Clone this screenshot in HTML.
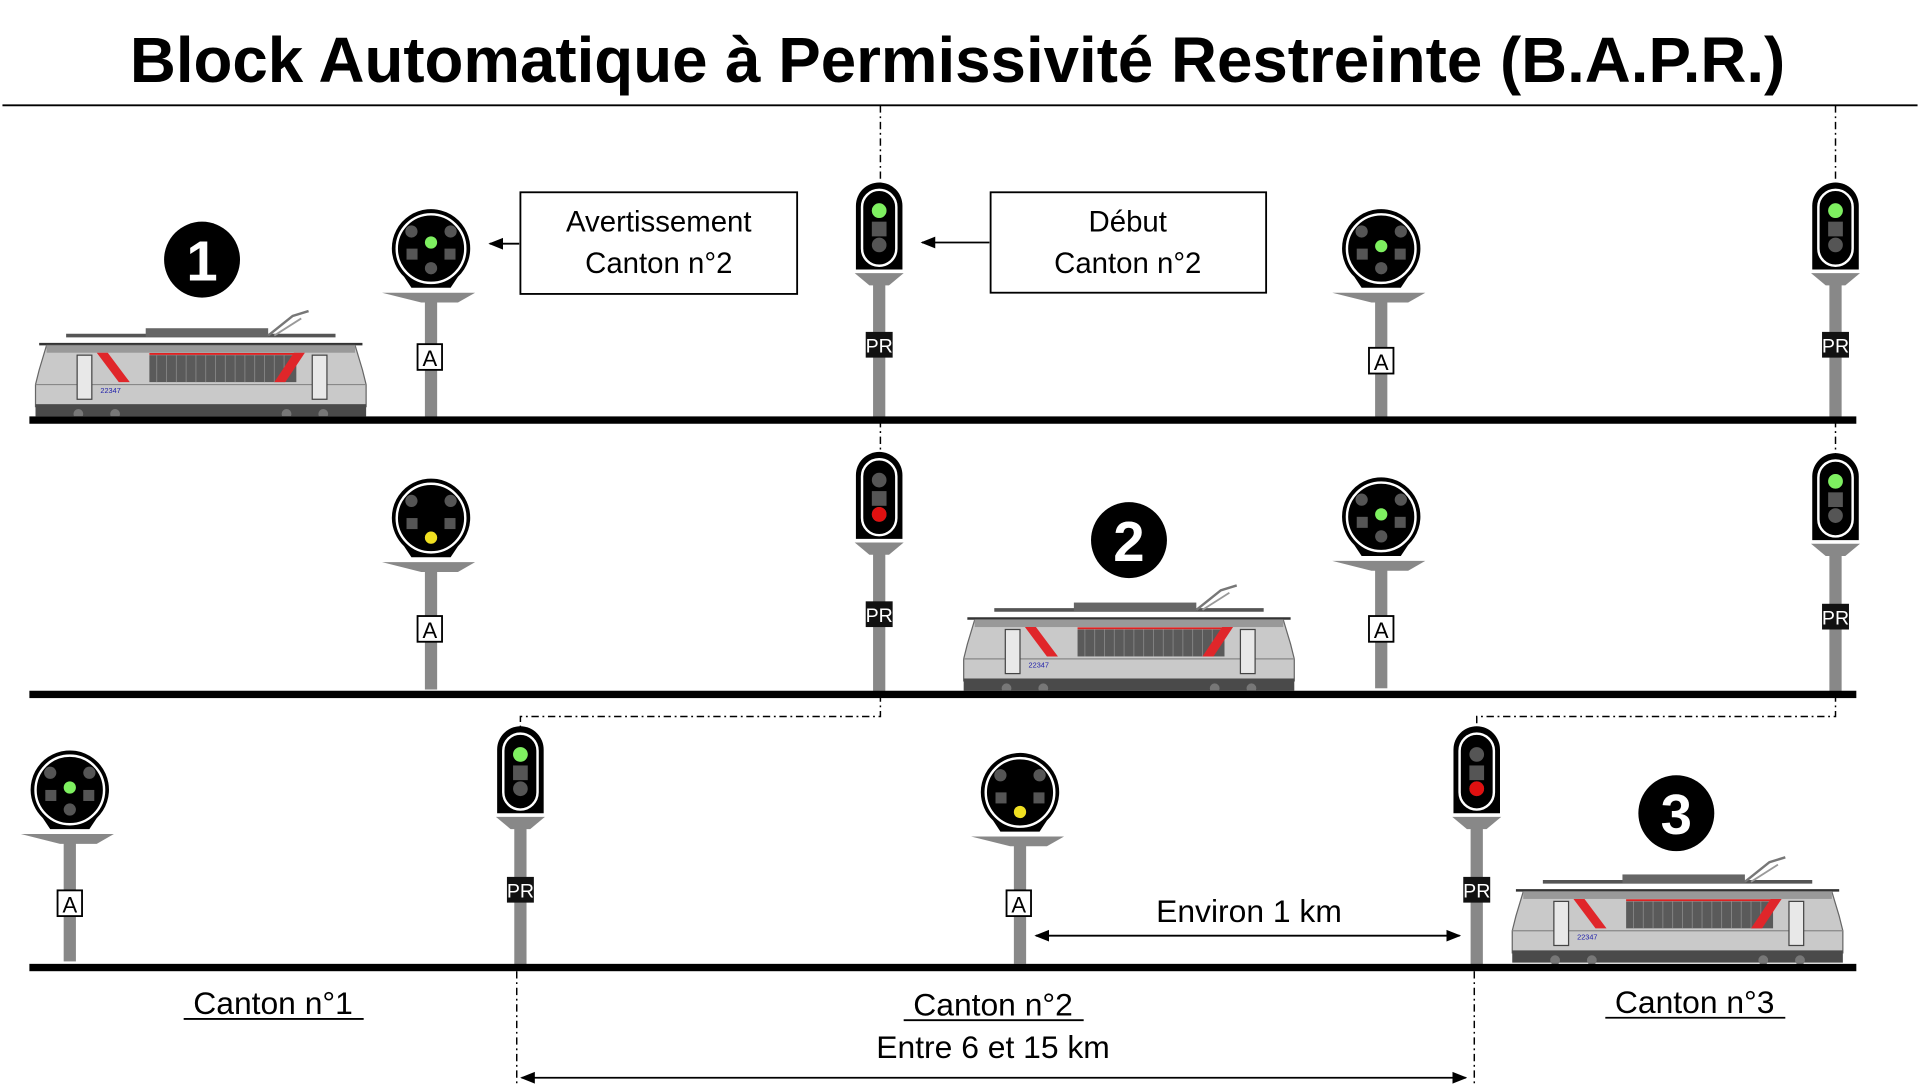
<!DOCTYPE html>
<html><head><meta charset="utf-8"><style>
html,body{margin:0;padding:0;background:#fff;}
svg{display:block;}
text{font-family:"Liberation Sans","DejaVu Sans",sans-serif;}
</style></head><body>
<svg width="1920" height="1090" viewBox="0 0 1568 890" preserveAspectRatio="none" xmlns="http://www.w3.org/2000/svg">
<defs>
<marker id="ah" viewBox="0 0 10 10" refX="9" refY="5" markerWidth="8" markerHeight="8" orient="auto-start-reverse"><path d="M0,1 L10,5 L0,9 z" fill="#000"/></marker>
<g id="loco">
  <line x1="30" y1="22" x2="250" y2="22" stroke="#555" stroke-width="3"/>
  <rect x="95" y="16" width="100" height="7" fill="#666"/>
  <polyline points="195,22 215,6 228,2" fill="none" stroke="#777" stroke-width="2"/>
  <polyline points="200,22 222,8" fill="none" stroke="#999" stroke-width="1.5"/>
  <line x1="8" y1="29" x2="272" y2="29" stroke="#333" stroke-width="2"/>
  <polygon points="14,30 266,30 272,50 275,62 275,80 5,80 5,62 8,50" fill="#c9c9c9" stroke="#666" stroke-width="1"/>
  <rect x="14" y="30" width="252" height="6" fill="#999"/>
  <line x1="5" y1="62" x2="275" y2="62" stroke="#888" stroke-width="1"/>
  <rect x="98" y="38" width="120" height="22" fill="#5a5a5a"/>
  <g stroke="#888" stroke-width="0.7">
   <line x1="104" y1="38" x2="104" y2="60"/><line x1="112" y1="38" x2="112" y2="60"/><line x1="120" y1="38" x2="120" y2="60"/><line x1="128" y1="38" x2="128" y2="60"/><line x1="136" y1="38" x2="136" y2="60"/><line x1="144" y1="38" x2="144" y2="60"/><line x1="152" y1="38" x2="152" y2="60"/><line x1="160" y1="38" x2="160" y2="60"/><line x1="168" y1="38" x2="168" y2="60"/><line x1="176" y1="38" x2="176" y2="60"/><line x1="184" y1="38" x2="184" y2="60"/><line x1="192" y1="38" x2="192" y2="60"/><line x1="200" y1="38" x2="200" y2="60"/><line x1="208" y1="38" x2="208" y2="60"/>
  </g>
  <line x1="98" y1="37" x2="218" y2="37" stroke="#d22" stroke-width="1.5"/>
  <polygon points="55,36 64,36 82,60 73,60" fill="#e0262a"/>
  <polygon points="225,36 216,36 200,60 209,60" fill="#e0262a"/>
  <rect x="39" y="38" width="12" height="36" fill="#e8e8e8" stroke="#444" stroke-width="1"/>
  <rect x="231" y="38" width="12" height="36" fill="#e8e8e8" stroke="#444" stroke-width="1"/>
  <rect x="5" y="78" width="270" height="10" fill="#4a4a4a"/>
  <circle cx="40" cy="86" r="4" fill="#777"/><circle cx="70" cy="86" r="4" fill="#777"/><circle cx="210" cy="86" r="4" fill="#777"/><circle cx="240" cy="86" r="4" fill="#777"/>
  <text x="58" y="69" font-size="6" fill="#22a">22347</text>
</g>
<g id="sigA">
  <polygon points="-40,36 36,36 22,44 -8,44" fill="#888"/>
  <rect x="-5" y="40" width="10" height="100" fill="#888"/>
  <path d="M-32,0 A32,32 0 1,1 22,23 L16,32 L-16,32 L-22,23 A32,32 0 0,1 -32,0 z" fill="#000"/>
  <circle cx="0" cy="0" r="28" fill="none" stroke="#fff" stroke-width="2"/>
  <circle cx="-16" cy="-14" r="5" fill="#555"/><circle cx="16" cy="-14" r="5" fill="#555"/>
  <rect x="-20" y="0" width="9" height="9" fill="#555"/><rect x="11" y="0" width="9" height="9" fill="#555"/>
  <circle cx="0" cy="16" r="5" fill="#555"/>
</g>
<g id="sigPR">
  <polygon points="-20,70 20,70 8,80 -8,80" fill="#888"/>
  <rect x="-5" y="72" width="10" height="120" fill="#888"/>
  <path d="M-19,15 A19,19 0 0,1 19,15 L19,67 L-19,67 z" fill="#000"/>
  <path d="M-14,16 A14,14 0 0,1 14,16 L14,50 A14,14 0 0,1 -14,50 z" fill="none" stroke="#fff" stroke-width="2"/>
  <circle cx="0" cy="19" r="6" fill="#555"/>
  <rect x="-6" y="28" width="12" height="12" fill="#555"/>
  <circle cx="0" cy="47" r="6" fill="#555"/>
</g>
<g id="plateA"><rect x="-10" y="0" width="20" height="21" fill="#fff" stroke="#000" stroke-width="1.5"/><text x="0" y="18" font-size="18" text-anchor="middle">A</text></g>
<g id="platePR"><rect x="-11" y="0" width="22" height="21" fill="#111"/><text x="0" y="17" font-size="16" text-anchor="middle" fill="#fff">PR</text></g>
</defs>

<text x="782" y="67" font-size="52" font-weight="bold" text-anchor="middle">Block Automatique à Permissivité Restreinte (B.A.P.R.)</text>
<line x1="2" y1="86" x2="1566" y2="86" stroke="#000" stroke-width="1.5"/>

<g stroke="#000" stroke-width="1.2" stroke-dasharray="6,3,1.5,3" fill="none">
  <line x1="719" y1="86" x2="719" y2="153"/>
  <line x1="719" y1="343" x2="719" y2="375"/>
  <polyline points="719,567 719,585 425,585 425,598"/>
  <line x1="1499" y1="86" x2="1499" y2="153"/>
  <line x1="1499" y1="343" x2="1499" y2="375"/>
  <polyline points="1499,567 1499,585 1206,585 1206,598"/>
  <line x1="422" y1="793" x2="422" y2="886"/>
  <line x1="1204" y1="793" x2="1204" y2="886"/>
</g>

<use href="#loco" x="24" y="252"/>
<circle cx="165" cy="212" r="31" fill="#000"/><text x="165" y="229" font-size="46" font-weight="bold" fill="#fff" text-anchor="middle">1</text>
<use href="#sigA" x="352" y="203"/><circle cx="352" cy="198" r="5" fill="#7ef060"/><use href="#plateA" x="351" y="281"/>
<rect x="425" y="157" width="226" height="83" fill="#fff" stroke="#000" stroke-width="1.5"/>
<text x="538" y="189" font-size="24" text-anchor="middle">Avertissement</text>
<text x="538" y="223" font-size="24" text-anchor="middle">Canton n°2</text>
<line x1="424" y1="199" x2="400" y2="199" stroke="#000" stroke-width="1.5" marker-end="url(#ah)"/>
<use href="#sigPR" x="718" y="153"/><circle cx="718" cy="172" r="6" fill="#7ef060"/><use href="#platePR" x="718" y="271"/>
<rect x="809" y="157" width="225" height="82" fill="#fff" stroke="#000" stroke-width="1.5"/>
<text x="921" y="189" font-size="24" text-anchor="middle">Début</text>
<text x="921" y="223" font-size="24" text-anchor="middle">Canton n°2</text>
<line x1="808" y1="198" x2="753" y2="198" stroke="#000" stroke-width="1.5" marker-end="url(#ah)"/>
<use href="#sigA" x="1128" y="203"/><circle cx="1128" cy="201" r="5" fill="#7ef060"/><use href="#plateA" x="1128" y="284"/>
<use href="#sigPR" x="1499" y="153"/><circle cx="1499" cy="172" r="6" fill="#7ef060"/><use href="#platePR" x="1499" y="271"/>
<rect x="24" y="340" width="1492" height="6" fill="#000"/>

<use href="#sigA" x="352" y="423"/><circle cx="352" cy="439" r="5" fill="#f0e020"/><use href="#plateA" x="351" y="503"/>
<use href="#sigPR" x="718" y="373"/><circle cx="718" cy="420" r="6" fill="#e01010"/><use href="#platePR" x="718" y="491"/>
<circle cx="922" cy="441" r="31" fill="#000"/><text x="922" y="458" font-size="46" font-weight="bold" fill="#fff" text-anchor="middle">2</text>
<use href="#loco" x="782" y="476"/>
<use href="#sigA" x="1128" y="422"/><circle cx="1128" cy="420" r="5" fill="#7ef060"/><use href="#plateA" x="1128" y="503"/>
<use href="#sigPR" x="1499" y="374"/><circle cx="1499" cy="393" r="6" fill="#7ef060"/><use href="#platePR" x="1499" y="493"/>
<rect x="24" y="564" width="1492" height="6" fill="#000"/>

<use href="#sigA" x="57" y="645"/><circle cx="57" cy="643" r="5" fill="#7ef060"/><use href="#plateA" x="57" y="727"/>
<use href="#sigPR" x="425" y="597"/><circle cx="425" cy="616" r="6" fill="#7ef060"/><use href="#platePR" x="425" y="716"/>
<use href="#sigA" x="833" y="647"/><circle cx="833" cy="663" r="5" fill="#f0e020"/><use href="#plateA" x="832" y="727"/>
<use href="#sigPR" x="1206" y="597"/><circle cx="1206" cy="644" r="6" fill="#e01010"/><use href="#platePR" x="1206" y="716"/>
<circle cx="1369" cy="664" r="31" fill="#000"/><text x="1369" y="681" font-size="46" font-weight="bold" fill="#fff" text-anchor="middle">3</text>
<use href="#loco" x="1230" y="698"/>
<text x="1020" y="753" font-size="26" text-anchor="middle">Environ 1 km</text>
<line x1="846" y1="764" x2="1192" y2="764" stroke="#000" stroke-width="1.5" marker-start="url(#ah)" marker-end="url(#ah)"/>
<rect x="24" y="787" width="1492" height="6" fill="#000"/>

<text x="223" y="828" font-size="26" text-anchor="middle">Canton n°1</text>
<line x1="150" y1="832" x2="297" y2="832" stroke="#000" stroke-width="1.5"/>
<text x="811" y="829" font-size="26" text-anchor="middle">Canton n°2</text>
<line x1="738" y1="833" x2="885" y2="833" stroke="#000" stroke-width="1.5"/>
<text x="811" y="864" font-size="26" text-anchor="middle">Entre 6 et 15 km</text>
<text x="1384" y="827" font-size="26" text-anchor="middle">Canton n°3</text>
<line x1="1311" y1="831" x2="1458" y2="831" stroke="#000" stroke-width="1.5"/>
<line x1="426" y1="880" x2="1197" y2="880" stroke="#000" stroke-width="1.5" marker-start="url(#ah)" marker-end="url(#ah)"/>
</svg>
</body></html>
